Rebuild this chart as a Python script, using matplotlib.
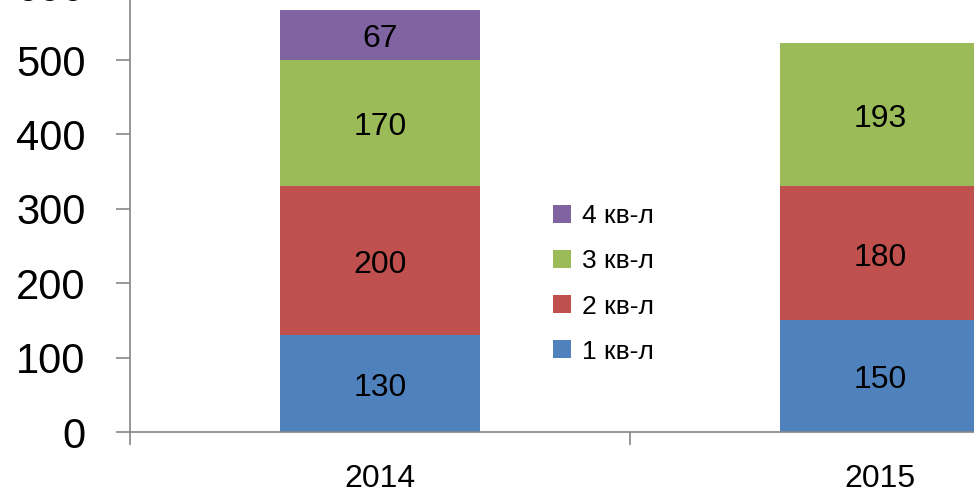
import matplotlib
matplotlib.use('Agg')
import matplotlib.pyplot as plt
import numpy as np

plt.rcParams['font.family'] = ['Liberation Sans', 'DejaVu Sans']

years = ['2014', '2015']
q1 = [130, 150]
q2 = [200, 180]
q3 = [170, 193]
q4 = [67, 0]
labels = ['1 кв-л', '2 кв-л', '3 кв-л', '4 кв-л']
colors = ['#4F81BD', '#C0504D', '#9BBB59', '#8064A2']

fig = plt.figure(figsize=(9.74, 4.93), dpi=100)
# the reference is a crop: axes reach past the top and right edge
ax = fig.add_axes([130 / 974, 61 / 493, 1000 / 974, 446.4 / 493])

x = np.arange(len(years))
bottom = np.zeros(len(years))
for vals, lab, col in zip([q1, q2, q3, q4], labels, colors):
    vals = np.array(vals, dtype=float)
    ax.bar(x, vals, 0.4, bottom=bottom, color=col, label=lab, linewidth=0)
    for xi, v, b0 in zip(x, vals, bottom):
        if v > 0:
            ax.annotate(str(int(v)), (xi, b0 + v / 2), xytext=(0, -3), textcoords='offset points',
                        ha='center', va='center', fontsize=23)
    bottom += vals

ax.set_xlim(-0.5, 1.5)
ax.set_ylim(0, 600)
ax.set_yticks(range(0, 601, 100))
ax.tick_params(axis='y', labelsize=30, length=10, width=1.2, color='#868686', pad=22)
ax.set_xticks(x)
ax.set_xticklabels(years)
ax.set_xticks([-0.5, 0.5, 1.5], minor=True)
ax.tick_params(axis='x', which='major', length=0, labelsize=23, pad=23)
ax.tick_params(axis='x', which='minor', length=9, width=1.2, color='#868686')

for s in ['top', 'right']:
    ax.spines[s].set_visible(False)
for s in ['left', 'bottom']:
    ax.spines[s].set_color('#868686')
    ax.spines[s].set_linewidth(1.2)

h, l = ax.get_legend_handles_labels()
fig.legend(h[::-1], l[::-1], loc='center left', bbox_to_anchor=(553 / 974, 1 - 284 / 493),
           frameon=False, fontsize=19, handlelength=0.68, handleheight=0.68,
           handletextpad=0.4, labelspacing=0.8, borderpad=0, borderaxespad=0)

fig.savefig('out.png', dpi=100)
